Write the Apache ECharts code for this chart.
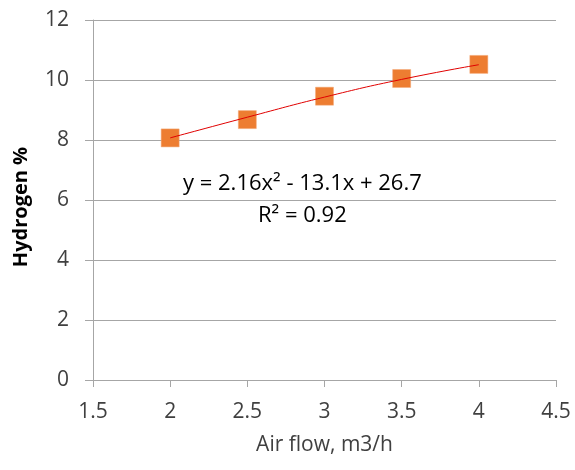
<!DOCTYPE html>
<html>
<head>
    <meta charset="utf-8">
    <title>Hydrogen vs air flow</title>
    <script src="https://cdn.jsdelivr.net/npm/echarts@6/dist/echarts.min.js"></script>
    <style type="text/css">
        * {
            margin: 0;
            padding: 0;
        }
        body {
            background: #fff;
        }
    </style>
</head>
<body>
<div id="main" style="width: 575px;height: 470px;"></div>
<script type="text/javascript">
    // measured points
    var airFlow = [2, 2.5, 3, 3.5, 4];
    var hydrogen = [8.07, 8.68, 9.46, 10.05, 10.52];
    // trendline
    var trendX = [2, 2.5, 3, 3.5, 4];
    var trendY = [8.07, 8.76, 9.43, 10.02, 10.51];
    var eqText = 'y = 2.16x\u00b2 - 13.1x + 26.7';
    var r2Text = 'R\u00b2 = 0.92';

    var font = 'Open Sans';
    var textColor = '#404040';
    var gridColor = '#a6a6a6';

    function pairs(xs, ys) {
        var out = [];
        for (var i = 0; i < xs.length; i++) {
            out.push([xs[i], ys[i]]);
        }
        return out;
    }

    var myChart = echarts.init(document.getElementById('main'));
    var option = {
        animation: false,
        grid: {
            left: 93,
            right: 19,
            top: 20,
            bottom: 90
        },
        xAxis: {
            type: 'value',
            min: 1.5,
            max: 4.5,
            interval: 0.5,
            name: 'Air flow, m3/h',
            nameLocation: 'middle',
            nameGap: 55,
            nameTextStyle: {
                color: textColor,
                fontSize: 21,
                fontFamily: font
            },
            axisLine: {
                show: true,
                lineStyle: { color: gridColor }
            },
            axisTick: {
                show: true,
                length: 7,
                lineStyle: { color: gridColor }
            },
            axisLabel: {
                margin: 22,
                color: textColor,
                fontSize: 21,
                fontFamily: font
            },
            splitLine: { show: false }
        },
        yAxis: {
            type: 'value',
            min: 0,
            max: 12,
            interval: 2,
            name: 'Hydrogen %',
            nameLocation: 'middle',
            nameGap: 62,
            nameTextStyle: {
                color: '#000',
                fontSize: 20,
                fontWeight: 'bold',
                fontFamily: font,
                padding: [0, 14, 0, 0]
            },
            axisLine: {
                show: true,
                lineStyle: { color: gridColor }
            },
            axisTick: {
                show: true,
                length: 8,
                lineStyle: { color: gridColor }
            },
            axisLabel: {
                margin: 24,
                color: textColor,
                fontSize: 21,
                fontFamily: font
            },
            splitLine: {
                show: true,
                lineStyle: { color: gridColor, width: 1 }
            }
        },
        graphic: [{
            type: 'text',
            left: 183,
            top: 173,
            style: {
                text: eqText,
                fill: '#000',
                font: '22px "' + font + '"'
            }
        }, {
            type: 'text',
            left: 258,
            top: 205,
            style: {
                text: r2Text,
                fill: '#000',
                font: '22px "' + font + '"'
            }
        }],
        series: [{
            type: 'scatter',
            symbol: 'rect',
            symbolSize: 18,
            itemStyle: {
                color: '#ED7D31',
                opacity: 1,
                borderColor: '#f3a878',
                borderWidth: 0.5
            },
            data: pairs(airFlow, hydrogen),
            z: 2
        }, {
            type: 'line',
            smooth: true,
            symbol: 'none',
            lineStyle: {
                color: '#e00000',
                width: 1
            },
            data: pairs(trendX, trendY),
            z: 3
        }]
    };
    myChart.setOption(option);
</script>
</body>
</html>
